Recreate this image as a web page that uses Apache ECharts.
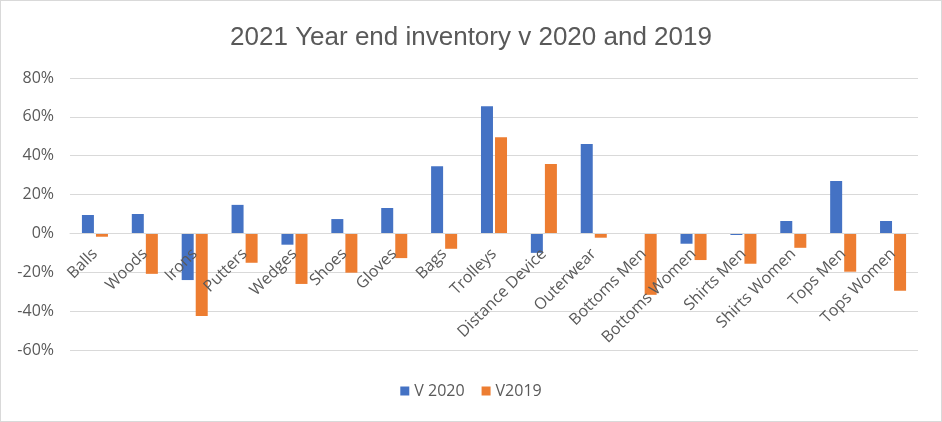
<!DOCTYPE html>
<html><head><meta charset="utf-8">
<script src="https://cdn.jsdelivr.net/npm/echarts@6/dist/echarts.min.js"></script>
<style>
html,body{margin:0;padding:0;background:#fff;}
#c{width:940px;height:420px;border:1px solid #d9d9d9;}
</style></head>
<body><div id="c"></div>
<script>
const categories = ["Balls","Woods","Irons","Putters","Wedges","Shoes","Gloves","Bags","Trolleys","Distance Device","Outerwear","Bottoms Men","Bottoms Women","Shirts Men","Shirts Women","Tops Men","Tops Women"];
const v2020 = [9.5, 10, -24, 14.7, -5.8, 7.4, 13.1, 34.6, 65.5, -10, 46, 0, -5.3, -0.8, 6.4, 27, 6.4];
const v2019 = [-1.7, -20.8, -42.5, -15.1, -26, -20.2, -12.7, -7.9, 49.5, 35.7, -2.2, -31.6, -13.7, -15.6, -7.4, -19.7, -29.5];
const yTicks = {min: -60, max: 80, interval: 20};

const H = 420, gridTop = 77, gridBottom = 71;
const gridH = H - gridTop - gridBottom;
// move category axis up to the zero line
const zeroOffset = -gridH * (0 - yTicks.min) / (yTicks.max - yTicks.min);

const chart = echarts.init(document.getElementById('c'));
chart.setOption({
  animation: false,
  title: {text: '2021 Year end inventory v 2020 and 2019', left: 'center', top: 19,
    textStyle: {fontFamily: 'Liberation Sans', fontWeight: 'normal', fontSize: 26, color: '#595959'}},
  legend: {bottom: 17, left: 'center', itemWidth: 9, itemHeight: 9, itemGap: 17,
    icon: 'rect',
    textStyle: {fontFamily: 'Open Sans', fontSize: 16, color: '#595959'},
    data: ['V 2020', 'V2019']},
  grid: {left: 69, right: 23, top: gridTop, bottom: gridBottom, containLabel: false, outerBoundsMode: 'none'},
  xAxis: {type: 'category', data: categories, offset: zeroOffset, z: 10,
    axisLine: {onZero: false, lineStyle: {color: '#d9d9d9'}},
    axisTick: {show: false},
    axisLabel: {rotate: 45, interval: 0, fontFamily: 'Open Sans', fontSize: 16, color: '#595959', margin: 18}},
  yAxis: {type: 'value', min: yTicks.min, max: yTicks.max, interval: yTicks.interval,
    axisLabel: {formatter: '{value}%', fontFamily: 'Open Sans', fontSize: 16, color: '#595959', margin: 16},
    splitLine: {lineStyle: {color: '#d9d9d9', width: 1}},
    axisLine: {show: false}, axisTick: {show: false}},
  series: [
    {name: 'V 2020', type: 'bar', data: v2020, barWidth: 12, barGap: '17%', itemStyle: {color: '#4472c4'}},
    {name: 'V2019', type: 'bar', data: v2019, barWidth: 12, barGap: '17%', itemStyle: {color: '#ed7d31'}}
  ]
});
</script></body></html>
